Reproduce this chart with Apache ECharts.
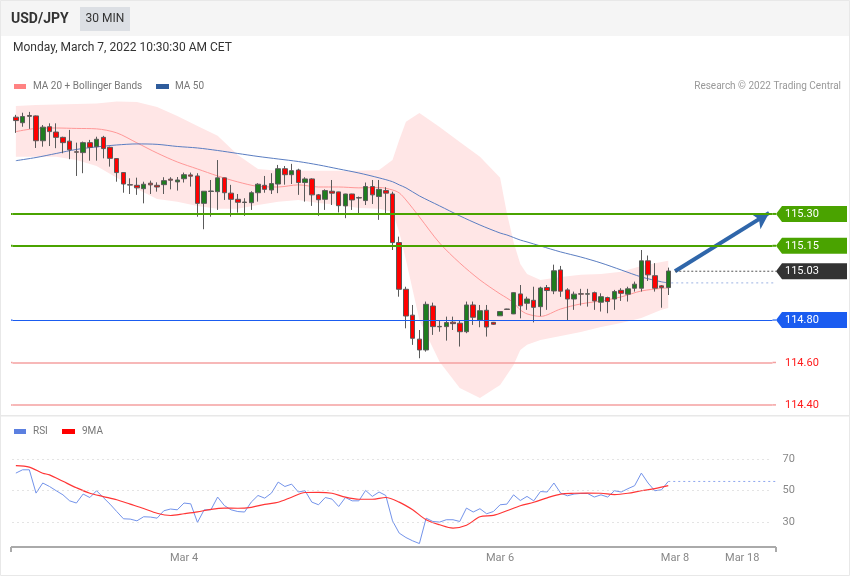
<!DOCTYPE html>
<html><head><meta charset="utf-8">
<script src="https://cdn.jsdelivr.net/npm/echarts@6/dist/echarts.min.js"></script>
<style>html,body{margin:0;padding:0;background:#fff}#c{width:850px;height:576px}</style>
</head><body><div id="c"></div>
<script>
// ---- candles (30 min) ----
const opens  = [115.756,115.730,115.764,115.762,115.645,115.711,115.686,115.661,115.643,115.593,115.589,115.636,115.617,115.661,115.614,115.561,115.495,115.438,115.435,115.419,115.445,115.435,115.438,115.464,115.451,115.466,115.484,115.479,115.350,115.406,115.405,115.470,115.398,115.369,115.356,115.353,115.400,115.435,115.413,115.441,115.513,115.485,115.507,115.448,115.465,115.390,115.369,115.407,115.404,115.338,115.394,115.377,115.363,115.429,115.382,115.410,115.394,115.165,114.945,114.823,114.710,114.659,114.866,114.770,114.769,114.790,114.785,114.745,114.871,114.800,114.846,114.789,114.820,114.852,114.829,114.923,114.879,114.893,114.863,114.953,114.937,115.036,114.942,114.899,114.924,114.922,114.929,114.884,114.906,114.899,114.940,114.922,114.950,114.950,115.079,115.009,114.961,114.953];
const closes = [115.740,115.759,115.760,115.645,115.709,115.688,115.661,115.636,115.602,115.591,115.636,115.614,115.652,115.608,115.562,115.495,115.441,115.436,115.423,115.440,115.437,115.427,115.457,115.459,115.460,115.485,115.478,115.350,115.407,115.408,115.470,115.400,115.369,115.355,115.354,115.400,115.440,115.416,115.443,115.513,115.485,115.504,115.448,115.465,115.390,115.367,115.410,115.398,115.339,115.394,115.366,115.375,115.429,115.390,115.416,115.398,115.165,114.945,114.819,114.714,114.659,114.874,114.769,114.768,114.788,114.783,114.745,114.871,114.813,114.844,114.767,114.780,114.840,114.850,114.929,114.867,114.899,114.860,114.951,114.939,115.032,114.936,114.899,114.922,114.922,114.924,114.890,114.910,114.887,114.934,114.926,114.947,114.969,115.079,115.013,114.950,114.953,115.031];
const lows   = [115.682,115.711,115.701,115.611,115.617,115.620,115.610,115.586,115.558,115.479,115.492,115.551,115.551,115.562,115.523,115.452,115.400,115.394,115.390,115.350,115.394,115.405,115.394,115.416,115.410,115.448,115.429,115.287,115.228,115.287,115.319,115.366,115.287,115.306,115.291,115.319,115.358,115.400,115.394,115.398,115.438,115.441,115.390,115.358,115.338,115.291,115.319,115.342,115.307,115.280,115.319,115.303,115.342,115.347,115.272,115.303,115.130,114.910,114.761,114.683,114.620,114.651,114.730,114.745,114.703,114.753,114.675,114.738,114.777,114.766,114.722,114.778,114.819,114.849,114.828,114.808,114.848,114.789,114.818,114.848,114.922,114.909,114.800,114.848,114.868,114.863,114.848,114.840,114.832,114.848,114.890,114.887,114.934,114.934,114.984,114.934,114.858,114.918];
const highs  = [115.767,115.777,115.781,115.764,115.719,115.727,115.727,115.664,115.696,115.636,115.641,115.649,115.664,115.668,115.617,115.562,115.496,115.468,115.471,115.452,115.457,115.449,115.473,115.473,115.474,115.495,115.495,115.492,115.408,115.460,115.554,115.471,115.437,115.394,115.374,115.407,115.445,115.479,115.492,115.531,115.526,115.536,115.513,115.473,115.468,115.394,115.416,115.460,115.405,115.395,115.395,115.382,115.448,115.460,115.460,115.426,115.405,115.193,114.957,114.871,114.753,114.887,114.882,114.800,114.816,114.816,114.800,114.887,114.887,114.871,114.871,114.791,114.841,114.853,114.930,114.965,114.910,114.957,114.957,114.965,115.061,115.055,114.950,114.934,114.947,114.947,114.934,114.926,114.910,114.942,114.950,114.957,114.981,115.130,115.104,115.068,114.965,115.047];

// ---- moving averages / bands, read at these candle indices ----
const maIdx   = [0,3,6,9,12,15,18,21,24,27,30,33,36,39,42,45,48,51,54,56,57,58,60,63,66,69,72,73,74,75,76,78,81,84,87,90,93,96,97];
const ma20    = [115.688,115.703,115.705,115.703,115.701,115.682,115.635,115.587,115.545,115.512,115.479,115.451,115.430,115.427,115.437,115.427,115.427,115.423,115.425,115.413,115.399,115.366,115.286,115.163,115.069,114.989,114.923,114.904,114.881,114.848,114.829,114.817,114.852,114.876,114.890,114.909,114.937,114.949,114.951];
const bbUpper = [115.809,115.814,115.816,115.818,115.821,115.830,115.828,115.804,115.762,115.715,115.668,115.578,115.512,115.503,115.503,115.503,115.503,115.503,115.507,115.554,115.649,115.734,115.776,115.710,115.639,115.569,115.470,115.305,115.168,115.064,115.017,114.989,115.003,115.013,115.017,115.027,115.055,115.074,115.079];
const bbLower = [115.569,115.569,115.569,115.554,115.526,115.470,115.418,115.371,115.357,115.338,115.324,115.324,115.342,115.357,115.366,115.352,115.342,115.328,115.324,115.309,115.215,115.083,114.800,114.603,114.480,114.433,114.494,114.541,114.588,114.659,114.683,114.706,114.725,114.744,114.767,114.786,114.810,114.848,114.857];
const ma50    = [115.551,115.566,115.585,115.604,115.616,115.625,115.630,115.628,115.618,115.611,115.599,115.585,115.571,115.559,115.547,115.531,115.512,115.493,115.470,115.452,115.437,115.423,115.385,115.338,115.291,115.248,115.210,115.201,115.189,115.177,115.168,115.149,115.121,115.097,115.069,115.036,115.003,114.980,114.975];

// ---- RSI ----
const rsi = [60.9,63.0,63.0,48.2,54.6,52.4,49.7,47.1,43.3,41.9,47.6,45.4,49.7,45.4,41.2,36.5,31.9,31.7,30.6,33.2,33.0,32.3,37.0,38.1,37.6,41.9,41.4,29.6,37.6,37.6,45.7,40.3,37.6,36.5,36.2,42.5,46.7,45.0,48.2,55.2,52.4,53.9,48.9,49.7,42.5,40.8,45.4,44.4,39.7,45.4,43.3,43.3,49.9,46.1,48.9,46.7,30.6,22.8,20.0,17.9,16.2,32.3,30.2,29.8,31.3,31.3,30.2,38.7,36.2,38.3,35.1,36.5,40.8,41.2,47.1,43.5,46.1,43.3,49.2,48.9,54.6,48.2,46.5,47.6,48.0,48.0,45.7,47.1,45.7,49.7,48.9,51.0,52.9,60.9,54.6,49.7,50.3,55.6];
const rsiMaIdx = [0,2,4,5,7,9,11,13,15,17,19,21,23,25,27,29,31,33,35,37,39,41,43,45,47,49,51,53,55,57,59,61,63,65,67,69,71,73,75,77,79,81,83,85,87,89,91,93,95,97];
const rsiMa    = [65.6,64.7,60.8,59.8,55.7,51.6,48.1,46.0,44.0,41.2,38.4,35.4,34.0,35.1,36.3,37.9,38.7,38.6,39.2,41.1,42.4,45.6,48.6,48.7,48.1,45.6,44.3,44.3,45.4,42.5,37.6,31.3,28.1,26.0,27.8,33.2,34.1,37.0,40.2,42.4,45.2,47.6,48.1,48.2,48.1,47.3,48.1,49.7,51.0,52.9];
const rsiLevels = [70, 50, 30];

// ---- axis / annotations ----
const slotCount = 113;
const xTickLabels = {25: 'Mar 4', 72: 'Mar 6', 98: 'Mar 8', 108: 'Mar 18'};
const levelValues = [115.30, 115.15, 115.03, 114.80, 114.60, 114.40];
const levelLabels = ['115.30', '115.15', '115.03', '114.80', '114.60', '114.40'];
const arrowFrom = [98, 115.03];
const arrowTo   = [112, 115.305];

const categories = Array.from({length: slotCount}, (_, i) => String(i));
const FONT = 'Roboto, "Liberation Sans", Arial, sans-serif';

const chart = echarts.init(document.getElementById('c'), null, {renderer: 'canvas'});
const gridL = 12.5, gridW = 760;

const lvlStyles = [
  {color: '#4aa300', width: 2, type: 'solid'},
  {color: '#4aa300', width: 2, type: 'solid'},
  null,
  {color: '#1a5cf0', width: 1.2, type: 'solid'},
  {color: '#f4a0a0', width: 1.5, type: 'solid'},
  {color: '#f4a0a0', width: 1.5, type: 'solid'}
];

const option = {
  animation: false,
  backgroundColor: '#fff',
  textStyle: {fontFamily: FONT},
  grid: [
    {left: gridL, width: gridW, top: 100, height: 310},
    {left: gridL, width: gridW, top: 443, height: 104}
  ],
  xAxis: [
    {type: 'category', gridIndex: 0, data: categories, boundaryGap: true, show: false},
    {type: 'category', gridIndex: 1, data: categories, boundaryGap: true,
     axisLine: {show: true, lineStyle: {color: '#aaa', width: 2}},
     axisTick: {show: false},
     axisLabel: {interval: 0, color: '#888', fontSize: 11, margin: 6,
       formatter: (v, i) => xTickLabels[i] || ''}}
  ],
  yAxis: [
    {type: 'value', gridIndex: 0, min: 114.376, max: 115.837, show: false, splitLine: {show: false}},
    {type: 'value', gridIndex: 1, min: 14, max: 80, show: false, splitLine: {show: false}}
  ],
  series: [
    {
      type: 'custom', xAxisIndex: 0, yAxisIndex: 0, data: [[0, 115]], silent: true, z: 1,
      renderItem: (params, api) => {
        const pts = [];
        for (let i = 0; i < maIdx.length; i++) pts.push(api.coord([maIdx[i], bbUpper[i]]));
        for (let i = maIdx.length - 1; i >= 0; i--) pts.push(api.coord([maIdx[i], bbLower[i]]));
        return {type: 'polygon', shape: {points: pts}, style: {fill: '#ffe6e6'}};
      }
    },
    {
      type: 'line', xAxisIndex: 0, yAxisIndex: 0, name: 'MA 20', z: 2,
      data: maIdx.map((x, i) => [x, ma20[i]]), smooth: 0.3, symbol: 'none',
      lineStyle: {color: '#ff9898', width: 1}
    },
    {
      type: 'line', xAxisIndex: 0, yAxisIndex: 0, name: 'MA 50', z: 2,
      data: maIdx.map((x, i) => [x, ma50[i]]), smooth: 0.3, symbol: 'none',
      lineStyle: {color: '#5b7ec2', width: 1},
      markLine: {
        silent: true, animation: false, label: {show: false},
        lineStyle: {color: '#2f66aa', width: 4, type: 'solid'},
        symbol: ['none', 'arrow'], symbolSize: [14, 16],
        data: [[{coord: arrowFrom}, {coord: arrowTo}]]
      }
    },
    {
      type: 'candlestick', xAxisIndex: 0, yAxisIndex: 0, z: 3, barWidth: 5,
      data: opens.map((o, i) => [o, closes[i], lows[i], highs[i]]),
      itemStyle: {color: '#1f7d1f', color0: '#ff0000', borderColor: '#5a5a5a', borderColor0: '#5a5a5a', borderWidth: 1},
      markLine: {
        silent: true, animation: false, symbol: 'none', label: {show: false},
        data: levelValues.map((v, i) => lvlStyles[i] ? {yAxis: v, lineStyle: lvlStyles[i]} : null).filter(Boolean)
      }
    },
    {
      type: 'line', xAxisIndex: 1, yAxisIndex: 1, name: 'RSI', z: 3,
      data: rsi, symbol: 'none', lineStyle: {color: '#7393ea', width: 1},
      markLine: {
        silent: true, animation: false, symbol: 'none',
        lineStyle: {color: '#c8c8c8', width: 1, type: [1, 4]},
        label: {show: true, position: 'end', color: '#888', fontSize: 11, distance: 10, formatter: p => String(p.value)},
        data: rsiLevels.map(v => ({yAxis: v}))
      }
    },
    {
      type: 'line', xAxisIndex: 1, yAxisIndex: 1, name: '9MA', z: 3,
      data: rsiMaIdx.map((x, i) => [x, rsiMa[i]]), smooth: 0.3, symbol: 'none',
      lineStyle: {color: '#ff3535', width: 1.2}
    }
  ]
};
chart.setOption(option);

// ---- annotations positioned through the chart's own scales ----
const g = [];
const txt = (x, y, text, font, fill, align) => ({type: 'text', x, y, z: 100,
  style: {text, font, fill, align: align || 'left', verticalAlign: 'middle'}});
g.push({type: 'rect', z: -10, shape: {x: 0, y: 0, width: 850, height: 36}, style: {fill: '#f5f5f5'}});
g.push(txt(11, 19, 'USD/JPY', 'bold 14px ' + FONT, '#333'));
g.push({type: 'rect', z: 90, shape: {x: 80, y: 7, width: 50, height: 24}, style: {fill: '#dcdfe4'}});
g.push(txt(105, 19, '30 MIN', '12px ' + FONT, '#333', 'center'));
g.push(txt(13, 48, 'Monday, March 7, 2022 10:30:30 AM CET', '12px ' + FONT, '#333'));
g.push({type: 'rect', z: 90, shape: {x: 14, y: 84, width: 12, height: 5}, style: {fill: '#ff8282'}});
g.push(txt(33, 86.5, 'MA 20 + Bollinger Bands', '10px ' + FONT, '#777'));
g.push({type: 'rect', z: 90, shape: {x: 156, y: 84, width: 13, height: 5}, style: {fill: '#2f5c9c'}});
g.push(txt(175, 86.5, 'MA 50', '10px ' + FONT, '#777'));
g.push(txt(841, 86.5, 'Research © 2022 Trading Central', '10px ' + FONT, '#999', 'right'));
g.push({type: 'rect', z: 90, shape: {x: 14, y: 429, width: 12, height: 5}, style: {fill: '#5b7fe0'}});
g.push(txt(33, 431.5, 'RSI', '10px ' + FONT, '#777'));
g.push({type: 'rect', z: 90, shape: {x: 62, y: 429, width: 13, height: 5}, style: {fill: '#ff0000'}});
g.push(txt(82, 431.5, '9MA', '10px ' + FONT, '#777'));
g.push({type: 'rect', z: 90, shape: {x: 0, y: 415, width: 850, height: 1.5}, style: {fill: '#e8e8e8'}});
g.push({type: 'rect', z: 90, shape: {x: 0.5, y: 0.5, width: 849, height: 575}, style: {fill: null, stroke: '#e8e8e8', lineWidth: 1}});

const tagColors = ['#4aa300', '#4aa300', '#333333', '#1a5cf0', null, null];
const tagX = 776;
const gridRight = gridL + gridW;
levelValues.forEach((v, i) => {
  const y = chart.convertToPixel({yAxisIndex: 0}, v);
  if (lvlStyles[i]) {
    // extend the level line up to the tag
    g.push({type: 'line', z: 95, shape: {x1: 11, y1: y, x2: gridL, y2: y}, style: {stroke: lvlStyles[i].color, lineWidth: lvlStyles[i].width}});
    g.push({type: 'line', z: 95, shape: {x1: gridRight, y1: y, x2: tagX, y2: y}, style: {stroke: lvlStyles[i].color, lineWidth: lvlStyles[i].width}});
  }
  if (tagColors[i]) {
    g.push({type: 'polygon', z: 95, shape: {points: [[tagX, y], [tagX + 6, y - 8], [847, y - 8], [847, y + 8], [tagX + 6, y + 8]]},
      style: {fill: tagColors[i]}});
    g.push(txt(tagX + 9, y + 0.5, levelLabels[i], '11px ' + FONT, '#fff'));
  } else {
    g.push(txt(tagX + 9, y + 0.5, levelLabels[i], '11px ' + FONT, '#ff1a1a'));
  }
});
// dotted current-price line, MA50 extension, RSI extension
const lastIdx = closes.length - 1;
const pLast = chart.convertToPixel({gridIndex: 0}, [lastIdx, closes[lastIdx]]);
const pMa = chart.convertToPixel({gridIndex: 0}, [maIdx[maIdx.length - 1], ma50[ma50.length - 1]]);
const pRsi = chart.convertToPixel({gridIndex: 1}, [lastIdx, rsi[lastIdx]]);
const yCur = chart.convertToPixel({yAxisIndex: 0}, 115.03);
g.push({type: 'line', z: 95, shape: {x1: pLast[0] + 7, y1: yCur, x2: tagX, y2: yCur}, style: {stroke: '#555', lineWidth: 1, lineDash: [2, 2]}});
g.push({type: 'line', z: 95, shape: {x1: pMa[0] + 3, y1: pMa[1], x2: tagX, y2: pMa[1]}, style: {stroke: '#9db2e2', lineWidth: 1, lineDash: [2, 3]}});
g.push({type: 'line', z: 95, shape: {x1: pRsi[0], y1: pRsi[1], x2: tagX, y2: pRsi[1]}, style: {stroke: '#8ea6ee', lineWidth: 1, lineDash: [2, 3]}});
// bottom axis with end ticks
const yAx = chart.convertToPixel({yAxisIndex: 1}, 14);
g.push({type: 'line', z: 95, shape: {x1: 11, y1: yAx, x2: 11, y2: yAx + 5}, style: {stroke: '#aaa', lineWidth: 2}});
g.push({type: 'line', z: 95, shape: {x1: 776, y1: yAx, x2: 776, y2: yAx + 5}, style: {stroke: '#aaa', lineWidth: 2}});
g.push({type: 'line', z: 95, shape: {x1: 11, y1: yAx, x2: 776, y2: yAx}, style: {stroke: '#aaa', lineWidth: 2}});
chart.setOption({graphic: g});
</script></body></html>
